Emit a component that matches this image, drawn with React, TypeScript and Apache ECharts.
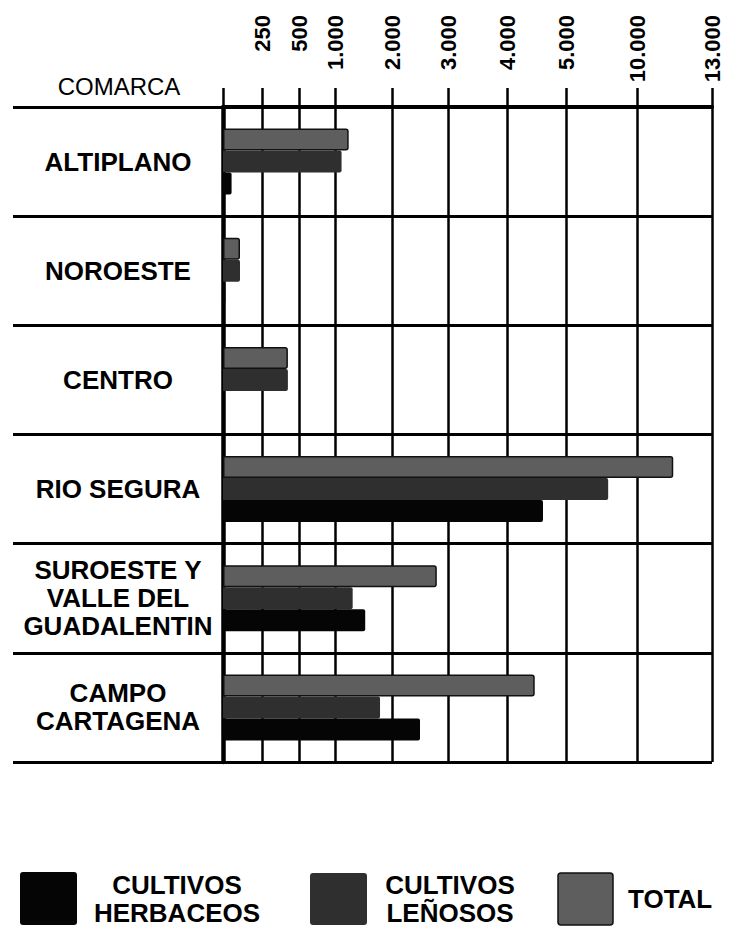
import React, { useEffect, useRef } from "react";
import * as echarts from "echarts";

// ---- Data ----
const CATEGORIES = [
  "ALTIPLANO",
  "NOROESTE",
  "CENTRO",
  "RIO SEGURA",
  "SUROESTE Y\nVALLE DEL\nGUADALENTIN",
  "CAMPO\nCARTAGENA",
];
const TOTAL = [1240, 109, 425, 11450, 2800, 4470];
const LENOSOS = [1115, 109, 425, 7970, 1310, 1790];
const HERBACEOS = [55, 15, 0, 4610, 1530, 2500];

const TICK_VALUES = [0, 250, 500, 1000, 2000, 3000, 4000, 5000, 10000, 13000];
const TICK_LABELS = ["", "250", "500", "1.000", "2.000", "3.000", "4.000", "5.000", "10.000", "13.000"];

const SERIES_NAMES = ["TOTAL", "CULTIVOS LEÑOSOS", "CULTIVOS HERBACEOS"];

// ---- Non-linear (piecewise) axis scale of the original printed chart ----
const SCALE_BREAKS = [0, 39, 76, 112, 169, 225, 284, 343, 414, 489];
function toScale(v: number): number {
  for (let i = 1; i < TICK_VALUES.length; i++) {
    if (v <= TICK_VALUES[i]) {
      const t = (v - TICK_VALUES[i - 1]) / (TICK_VALUES[i] - TICK_VALUES[i - 1]);
      return SCALE_BREAKS[i - 1] + t * (SCALE_BREAKS[i] - SCALE_BREAKS[i - 1]);
    }
  }
  return SCALE_BREAKS[SCALE_BREAKS.length - 1];
}
function labelFor(u: number): string {
  let best = 0;
  for (let i = 0; i < SCALE_BREAKS.length; i++) {
    if (Math.abs(SCALE_BREAKS[i] - u) < Math.abs(SCALE_BREAKS[best] - u)) best = i;
  }
  return TICK_LABELS[best];
}

const FONT = "'Liberation Sans', Arial, Helvetica, sans-serif";
const C_TOTAL = "#5e5e5e";
const C_LEN = "#2f2f2f";
const C_HERB = "#050505";

export default function App() {
  const ref = useRef<HTMLDivElement>(null);

  useEffect(() => {
    if (!ref.current) return;
    const chart = echarts.init(ref.current, null, { renderer: "svg" });

    const barBase = {
      type: "bar" as const,
      barWidth: 22,
      barGap: "0%",
      z: 3,
    };

    chart.setOption({
      animation: false,
      backgroundColor: "#ffffff",
      textStyle: { fontFamily: FONT, color: "#000" },
      grid: {
        left: 223,
        right: 17,
        top: 107,
        bottom: 165,
        outerBoundsMode: "none",
        containLabel: false,
      },
      xAxis: {
        type: "value",
        position: "top",
        min: 0,
        max: SCALE_BREAKS[SCALE_BREAKS.length - 1],
        axisLine: { show: true, lineStyle: { color: "#000", width: 4 } },
        axisTick: {
          show: true,
          inside: false,
          length: 19,
          customValues: SCALE_BREAKS,
          lineStyle: { color: "#000", width: 2.5 },
        },
        splitLine: { show: true, lineStyle: { color: "#000", width: 2.5 } },
        axisLabel: {
          show: true,
          customValues: SCALE_BREAKS.slice(1),
          rotate: -90,
          margin: 92,
          align: "right",
          verticalAlign: "middle",
          fontFamily: FONT,
          fontWeight: "bold",
          fontSize: 22,
          color: "#000",
          formatter: (v: number) => labelFor(v),
        },
      },
      yAxis: {
        type: "category",
        data: CATEGORIES,
        inverse: true,
        axisLine: { show: true, onZero: false, lineStyle: { color: "#000", width: 4.5 } },
        axisTick: {
          show: true,
          inside: false,
          length: 210,
          interval: 0,
          alignWithLabel: false,
          lineStyle: { color: "#000", width: 3 },
        },
        splitLine: { show: true, interval: 0, lineStyle: { color: "#000", width: 3 } },
        axisLabel: {
          interval: 0,
          margin: 105,
          align: "center",
          verticalAlign: "middle",
          fontFamily: FONT,
          fontWeight: "bold",
          fontSize: 26,
          lineHeight: 28,
          color: "#000",
        },
      },
      series: [
        {
          ...barBase,
          name: SERIES_NAMES[0],
          data: TOTAL.map(toScale),
          itemStyle: { color: C_TOTAL, borderColor: "#111", borderWidth: 1.5, borderRadius: [0, 2, 2, 0] },
        },
        {
          ...barBase,
          name: SERIES_NAMES[1],
          data: LENOSOS.map(toScale),
          itemStyle: { color: C_LEN, borderRadius: [0, 2, 2, 0] },
        },
        {
          ...barBase,
          name: SERIES_NAMES[2],
          data: HERBACEOS.map(toScale),
          itemStyle: { color: C_HERB, borderRadius: [0, 2, 2, 0] },
        },
      ],
      graphic: [
        {
          type: "text",
          x: 119,
          y: 86,
          style: {
            text: "COMARCA",
            font: `normal 24px ${FONT}`,
            fill: "#000",
            align: "center",
            verticalAlign: "middle",
          },
        },
        {
          type: "rect",
          shape: { x: 20, y: 872, width: 57, height: 53, r: 3 },
          style: { fill: C_HERB },
        },
        {
          type: "text",
          x: 177,
          y: 899,
          style: {
            text: "CULTIVOS\nHERBACEOS",
            font: `bold 26px ${FONT}`,
            lineHeight: 28,
            fill: "#000",
            align: "center",
            verticalAlign: "middle",
          },
        },
        {
          type: "rect",
          shape: { x: 310, y: 873, width: 57, height: 52, r: 3 },
          style: { fill: C_LEN },
        },
        {
          type: "text",
          x: 450,
          y: 899,
          style: {
            text: "CULTIVOS\nLEÑOSOS",
            font: `bold 26px ${FONT}`,
            lineHeight: 28,
            fill: "#000",
            align: "center",
            verticalAlign: "middle",
          },
        },
        {
          type: "rect",
          shape: { x: 558, y: 873, width: 55, height: 52, r: 3 },
          style: { fill: C_TOTAL, stroke: "#111", lineWidth: 1.5 },
        },
        {
          type: "text",
          x: 628,
          y: 899,
          style: {
            text: "TOTAL",
            font: `bold 26px ${FONT}`,
            fill: "#000",
            align: "left",
            verticalAlign: "middle",
          },
        },
      ],
    });

    return () => chart.dispose();
  }, []);

  return (
    <div
      ref={ref}
      style={{ position: "fixed", left: 0, top: 0, width: 729, height: 927, background: "#fff" }}
    />
  );
}
